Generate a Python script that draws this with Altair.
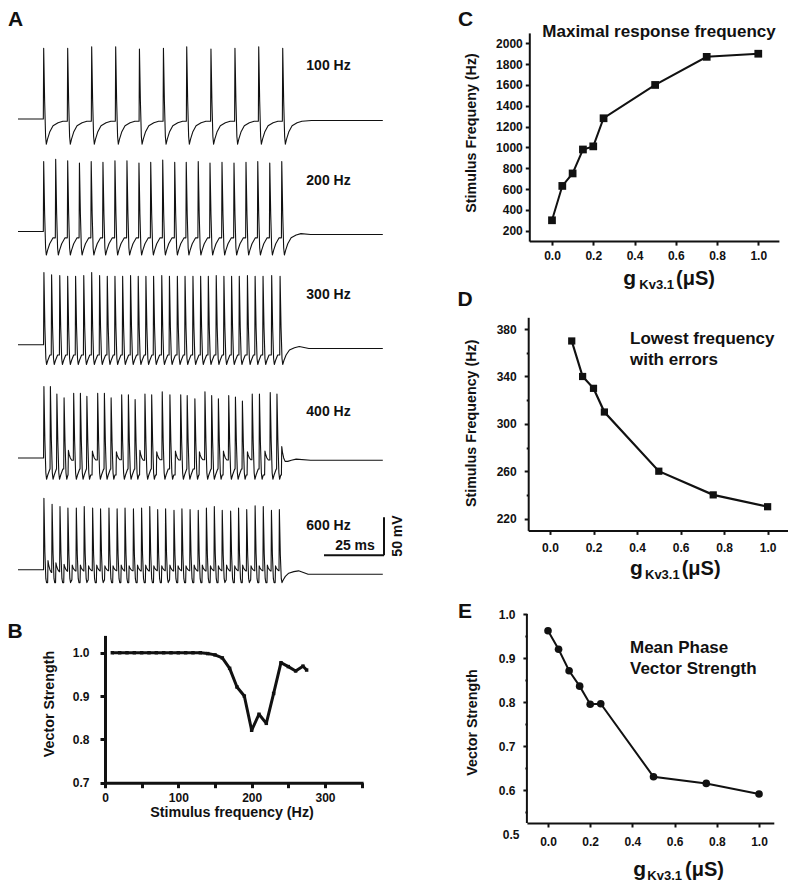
import altair as alt
import pandas as pd

FONT = "Liberation Sans"
INK = "#111111"
W, H = 780, 874

# ---------------- Panel A : membrane potential traces (ms, mV) ----------------
TRACE_LABELS = ["100 Hz", "200 Hz", "300 Hz", "400 Hz", "600 Hz"]

SPIKE_T_100 = [10.7, 20.7, 30.7, 40.7, 50.6, 60.6, 70.3, 80.4, 90.4, 100.3, 110.3]
SPIKE_P_100 = [93, 93, 95, 95, 92, 93, 95, 92, 93, 95, 93]

SPIKE_T_200 = [10.7, 15.7, 20.7, 25.6, 30.5, 35.4, 40.4, 45.4, 50.4, 55.3, 60.3,
               65.3, 70.1, 75.1, 80.0, 85.0, 90.0, 95.0, 99.9, 104.9, 109.9]
SPIKE_P_200 = [92, 95, 93, 90, 92, 91, 93, 93, 90, 91, 94, 91, 91, 92, 90, 91,
               90, 91, 92, 90, 92]

SPIKE_T_300 = [10.8, 14.0, 17.4, 20.7, 24.0, 27.4, 30.7, 34.0, 37.2, 40.4, 43.6,
               46.9, 50.1, 53.3, 56.5, 59.9, 63.1, 66.4, 69.6, 72.9, 76.1, 79.3,
               82.6, 85.8, 89.0, 92.2, 95.6, 98.8, 102.1, 105.7, 109.2]
SPIKE_P_300 = [95, 92, 91, 90, 90, 91, 95, 91, 90, 90, 90, 91, 90, 90, 90, 91,
               90, 90, 90, 90, 90, 90, 91, 90, 90, 90, 91, 90, 90, 91, 90]

SPIKE_T_400 = [10.8, 13.5, 16.2, 19.2, 23.2, 26.0, 28.7, 33.2, 36.0, 38.8, 43.2,
               46.0, 48.8, 52.9, 55.7, 60.1, 63.3, 67.8, 70.5, 73.7, 77.9, 80.7,
               83.5, 87.8, 90.6, 93.5, 97.6, 100.6, 105.1, 107.9]
SPIKE_P_400 = [94, 94, 84, 79, 85, 85, 81, 85, 85, 79, 83, 83, 77, 84, 83, 87,
               83, 83, 82, 78, 87, 82, 78, 82, 80, 75, 84, 84, 86, 84]
FAIL_T_400 = [21.0, 31.0, 41.0, 50.8, 57.8, 65.6, 75.6, 85.6, 95.6, 102.9, 109.9]
FAIL_A_400 = [10, 9, 8, 10, 8, 9, 8, 9, 8, 9, 15]

SPIKE_T_600 = [10.8, 14.2, 17.5, 20.8, 24.3, 27.6, 31.1, 34.4, 37.9, 41.3, 44.6,
               48.1, 51.5, 54.9, 58.2, 61.5, 65.0, 68.3, 71.7, 75.1, 78.5, 81.8,
               85.1, 88.6, 91.9, 95.3, 98.8, 102.2, 105.6, 108.9]
SPIKE_P_600 = [94, 86, 83, 81, 81, 83, 81, 80, 81, 80, 81, 80, 81, 83, 79, 80,
               78, 80, 79, 78, 81, 83, 78, 77, 81, 79, 84, 83, 78, 79]
FAIL_T_600 = [12.5, 15.8, 19.2, 22.6, 26.0, 29.4, 32.8, 36.2, 39.6, 43.0, 46.3,
              49.8, 53.2, 56.6, 59.9, 63.3, 66.7, 70.0, 73.4, 76.8, 80.2, 83.5,
              86.9, 90.3, 93.6, 97.1, 100.5, 103.9, 107.3]
FAIL_A_600 = [12, 9, 7, 6, 6, 5, 6, 5, 5, 6, 5, 6, 6, 5, 5, 6, 5, 5, 6, 6, 5,
              5, 6, 5, 6, 5, 5, 6, 5]

TROUGH_MV = [33, 31, 26, 28, 17]
POST_MV = [-2, -4, -5, -3, -6]

# spike / failed-response waveform
SPIKE_DT = [0.0, 0.4, 0.8, 1.1, 1.6, 2.5, 3.9, 6.0, 8.0]
SPIKE_F = [1.0, 0.25, -0.7, -1.0, -0.8, -0.52, -0.27, -0.15, -0.09]
FAIL_DT = [0.0, 0.3, 0.8, 1.4, 2.5, 4.0, 6.0]
FAIL_F = [1.0, 0.5, 0.0, -0.3, -0.3, -0.2, -0.1]
T_END = 152.0
SCALE_MS = 25
SCALE_MV = 50

# ---------------- Panel B ----------------
B_FREQ = [10, 20, 30, 40, 50, 60, 70, 80, 90, 100, 110, 120, 130, 140, 150, 160,
          170, 180, 190, 200, 210, 220, 230, 240, 250, 260, 270, 275]
B_VS = [1.0, 1.0, 1.0, 1.0, 1.0, 1.0, 1.0, 1.0, 1.0, 1.0, 1.0, 1.0, 1.0, 0.998,
        0.995, 0.988, 0.964, 0.921, 0.900, 0.821, 0.858, 0.837, 0.906, 0.977,
        0.968, 0.958, 0.969, 0.960]
B_XTICKS = [0, 50, 100, 150, 200, 250, 300, 350]
B_YTICKS = [0.7, 0.8, 0.9, 1.0]

# ---------------- Panel C ----------------
C_G = [0.0, 0.05, 0.1, 0.15, 0.2, 0.25, 0.5, 0.75, 1.0]
C_FREQ = [300, 630, 750, 980, 1010, 1280, 1600, 1870, 1900]
C_YTICKS = [200, 400, 600, 800, 1000, 1200, 1400, 1600, 1800, 2000]

# ---------------- Panel D ----------------
D_G = [0.1, 0.15, 0.2, 0.25, 0.5, 0.75, 1.0]
D_FREQ = [370, 340, 330, 310, 260, 240, 230]
D_YTICKS = [220, 240, 260, 280, 300, 320, 340, 360, 380]

# ---------------- Panel E ----------------
E_G = [0.0, 0.05, 0.1, 0.15, 0.2, 0.25, 0.5, 0.75, 1.0]
E_VS = [0.962, 0.920, 0.871, 0.836, 0.795, 0.796, 0.630, 0.615, 0.591]
E_YTICKS = [0.5, 0.55, 0.6, 0.65, 0.7, 0.75, 0.8, 0.85, 0.9, 0.95, 1.0]
E_AXIS_SPAN = [0.525, 1.0]
G_TICKS = [0.0, 0.2, 0.4, 0.6, 0.8, 1.0]

# ---------------- layout (pixels) ----------------
ROW_OFFSET = [0, -148, -297, -446, -593]
SCALEBAR_T = 152.5
SCALEBAR_V = -574


def trace_points(st, sp, ft, fa, trough, post):
    ev = sorted([(t, "S", p) for t, p in zip(st, sp)] +
                [(t, "F", a) for t, a in zip(ft, fa)])
    pts = [(0.0, 0.0)]
    for i, (t, kind, amp) in enumerate(ev):
        limit = ev[i + 1][0] - 0.15 if i + 1 < len(ev) else float("inf")
        pts.append((t - 0.15, pts[-1][1]))
        dts, fs = (SPIKE_DT, SPIKE_F) if kind == "S" else (FAIL_DT, FAIL_F)
        for dt, f in zip(dts, fs):
            if t + dt >= limit:
                break
            if kind == "S":
                v = f * amp if f > 0 else f * trough
            else:
                v = f * amp
            pts.append((t + dt, v))
    pts.append((ev[-1][0] + 12, post))
    pts.append((T_END, post))
    return pts


traces_in = [
    (SPIKE_T_100, SPIKE_P_100, [], []),
    (SPIKE_T_200, SPIKE_P_200, [], []),
    (SPIKE_T_300, SPIKE_P_300, [], []),
    (SPIKE_T_400, SPIKE_P_400, FAIL_T_400, FAIL_A_400),
    (SPIKE_T_600, SPIKE_P_600, FAIL_T_600, FAIL_A_600),
]
rows = []
for k, (st, sp, ft, fa) in enumerate(traces_in):
    for j, (t, v) in enumerate(trace_points(st, sp, ft, fa, TROUGH_MV[k], POST_MV[k])):
        rows.append({"trace": TRACE_LABELS[k], "i": j, "t": t, "v": v + ROW_OFFSET[k]})
dfA = pd.DataFrame(rows)

dfBar = pd.DataFrame({
    "t": [SCALEBAR_T - SCALE_MS, SCALEBAR_T],
    "t2": [SCALEBAR_T, SCALEBAR_T],
    "v": [SCALEBAR_V, SCALEBAR_V],
    "v2": [SCALEBAR_V, SCALEBAR_V + SCALE_MV],
})

xA = alt.X("t:Q", scale=alt.Scale(domain=[0, 155], range=[10, 382], nice=False, zero=False), axis=None)
yA = alt.Y("v:Q", scale=alt.Scale(domain=[-700, 100], range=[643, 35], nice=False, zero=False), axis=None)

panelA = alt.layer(
    alt.Chart(dfA).mark_line(color=INK, strokeWidth=1.1, strokeJoin="round").encode(
        x=xA, y=yA, detail="trace:N", order="i:Q"),
    alt.Chart(dfBar).mark_rule(color=INK, strokeWidth=2).encode(
        x=xA, x2="t2:Q", y=yA, y2="v2:Q"),
)


def mk_axis(orient, offset, values, width=2, tsize=4, pad=3, fmt=None, **kw):
    args = dict(orient=orient, offset=offset, values=values, grid=False, title=None,
                domainColor=INK, domainWidth=width, tickColor=INK, tickWidth=width,
                tickSize=tsize, labelFont=FONT, labelFontSize=12, labelFontWeight="bold",
                labelColor=INK, labelPadding=pad, labelFlush=False, labelOverlap=False)
    if fmt:
        args["format"] = fmt
    args.update(kw)
    return alt.Axis(**args)


# Panel B
dfB = pd.DataFrame({"f": B_FREQ, "vs": B_VS})
baseB = alt.Chart(dfB).encode(
    x=alt.X("f:Q", scale=alt.Scale(domain=[0, 352], range=[97, 355.1], nice=False, zero=False),
            axis=mk_axis("bottom", -99.3, B_XTICKS, width=3, tsize=5, pad=5,
                         labelExpr="datum.value % 100 == 0 ? datum.label : ''")),
    y=alt.Y("vs:Q", scale=alt.Scale(domain=[0.7, 1.04], range=[774.7, 627.4], nice=False, zero=False),
            axis=mk_axis("left", -97, B_YTICKS, width=3, tsize=5, pad=11, fmt=".1f")),
)
panelB = alt.layer(
    baseB.mark_line(color=INK, strokeWidth=3, strokeJoin="round"),
    baseB.mark_point(shape="square", filled=True, size=12, color=INK, opacity=1),
)

# Panel C
dfC = pd.DataFrame({"g": C_G, "f": C_FREQ})
baseC = alt.Chart(dfC).encode(
    x=alt.X("g:Q", scale=alt.Scale(domain=[-0.11, 1.1], range=[521.3, 770.9], nice=False, zero=False),
            axis=mk_axis("bottom", -640.9, G_TICKS, pad=5, fmt=".1f")),
    y=alt.Y("f:Q", scale=alt.Scale(domain=[100, 2100], range=[233.1, 24.9], nice=False, zero=False),
            axis=mk_axis("left", -521.3, C_YTICKS, pad=3, fmt="d")),
)
panelC = alt.layer(
    baseC.mark_line(color=INK, strokeWidth=2),
    baseC.mark_point(shape="square", filled=True, size=60, color=INK, opacity=1),
)

# Panel D
dfD = pd.DataFrame({"g": D_G, "f": D_FREQ})
baseD = alt.Chart(dfD).encode(
    x=alt.X("g:Q", scale=alt.Scale(domain=[-0.1, 1.1], range=[520.2, 781.4], nice=False, zero=False),
            axis=mk_axis("bottom", -351.6, G_TICKS, pad=8, fmt=".1f")),
    y=alt.Y("f:Q", scale=alt.Scale(domain=[210, 390], range=[522.4, 309.3], nice=False, zero=False),
            axis=mk_axis("left", -520.2, D_YTICKS, pad=8,
                         labelExpr="datum.value % 40 == 0 ? '' : datum.label",
                         tickSize={"condition": {"test": "datum.value % 40 == 0", "value": 2},
                                   "value": 4})),
)
panelD = alt.layer(
    baseD.mark_line(color=INK, strokeWidth=2.2),
    baseD.mark_point(shape="square", filled=True, size=52, color=INK, opacity=1),
)

# Panel E
dfE = pd.DataFrame({"g": E_G, "vs": E_VS})
xE = alt.X("g:Q", scale=alt.Scale(domain=[-0.1, 1.07], range=[518.9, 765.8], nice=False, zero=False),
           axis=mk_axis("bottom", -59, G_TICKS, pad=9, fmt=".1f"))
MINOR_E = "abs(datum.value * 10 - round(datum.value * 10)) > 0.01"
yE = alt.Y("vs:Q", scale=alt.Scale(domain=[0.5, 1.0], range=[826, 606], nice=False, zero=False),
           axis=mk_axis("left", -518.9, E_YTICKS, pad=8, fmt=".1f", domain=False,
                        labelExpr=MINOR_E + " ? '' : datum.label",
                        tickSize={"condition": [{"test": "datum.value < 0.51", "value": 0},
                                                {"test": MINOR_E, "value": 2}],
                                  "value": 4}))
dfEaxis = pd.DataFrame({"g": [-0.1], "vs": [E_AXIS_SPAN[0]], "vs2": [E_AXIS_SPAN[1]]})
panelE = alt.layer(
    alt.Chart(dfEaxis).mark_rule(color=INK, strokeWidth=2).encode(x=xE, y=yE, y2="vs2:Q"),
    alt.Chart(dfE).mark_line(color=INK, strokeWidth=2).encode(x=xE, y=yE),
    alt.Chart(dfE).mark_point(shape="circle", filled=True, size=58, color=INK, opacity=1).encode(x=xE, y=yE),
)

# ---------------- text annotations ----------------
PANEL_LETTERS = ["A", "B", "C", "D", "E"]
TITLE_C = "Maximal response frequency"
NOTE_D = ["Lowest frequency", "with errors"]
NOTE_E = ["Mean Phase", "Vector Strength"]
YTITLE_B = "Vector Strength"
XTITLE_B = "Stimulus frequency (Hz)"
YTITLE_C = "Stimulus Frequeny (Hz)"
YTITLE_D = "Stimulus Frequency (Hz)"
YTITLE_E = "Vector Strength"
G_PARTS = ["g", "Kv3.1", "(\u03bcS)"]
SCALE_LABELS = ["25 ms", "50 mV"]

annots = []  # (text, x, y, size, angle, align, baseline)
for s, (x, y) in zip(PANEL_LETTERS, [(7.5, 1), (7, 613), (457.5, 1), (457, 281), (457, 593)]):
    annots.append((s, x, y, 21, 0, "center", "top"))
for s, y in zip(TRACE_LABELS, [58, 173, 287, 403.7, 517.7]):
    annots.append((s, 320.5, y, 14, 0, "center", "middle"))
annots.append((SCALE_LABELS[0], 347, 538, 14, 0, "center", "middle"))
annots.append((SCALE_LABELS[1], 390, 528, 14, 270, "center", "middle"))
annots.append((YTITLE_B, 42, 696, 14.3, 270, "center", "middle"))
annots.append((XTITLE_B, 224, 805, 14.3, 0, "center", "middle"))
annots.append((TITLE_C, 651, 23.7, 17, 0, "center", "middle"))
annots.append((YTITLE_C, 464, 125, 14.3, 270, "center", "middle"))
annots.append((YTITLE_D, 464, 415.3, 14.3, 270, "center", "middle"))
annots.append((YTITLE_E, 465.3, 714.5, 14.3, 270, "center", "middle"))
for s, y in zip(NOTE_D, [331, 352]):
    annots.append((s, 622, y, 17, 0, "left", "middle"))
for s, y in zip(NOTE_E, [640, 661]):
    annots.append((s, 622, y, 17, 0, "left", "middle"))
for (gx, kx, ux, base) in [(615.3, 631.3, 668, 276.6), (622, 637, 673.7, 566.6), (625.3, 639.3, 677, 867.5)]:
    annots.append((G_PARTS[0], gx, base, 21, 0, "left", "alphabetic"))
    annots.append((G_PARTS[1], kx, base + 4.5, 13, 0, "left", "alphabetic"))
    annots.append((G_PARTS[2], ux, base, 20, 0, "left", "alphabetic"))

text_layers = []
for (s, x, y, size, ang, align, base) in annots:
    mk = dict(font=FONT, fontWeight="bold", fontSize=size, align=align, baseline=base, color=INK)
    if ang:
        mk["angle"] = ang
    text_layers.append(
        alt.Chart(pd.DataFrame({"label": [s]})).mark_text(**mk).encode(
            text="label:N", x=alt.value(x), y=alt.value(y))
    )

chart = alt.layer(panelA, panelB, panelC, panelD, panelE, *text_layers).resolve_scale(
    x="independent", y="independent"
).properties(
    width=W, height=H, padding=0, background="white",
    autosize=alt.AutoSizeParams(type="none"),
).configure_view(stroke=None)

chart.save("out.html", embed_options={"renderer": "svg", "actions": False})
